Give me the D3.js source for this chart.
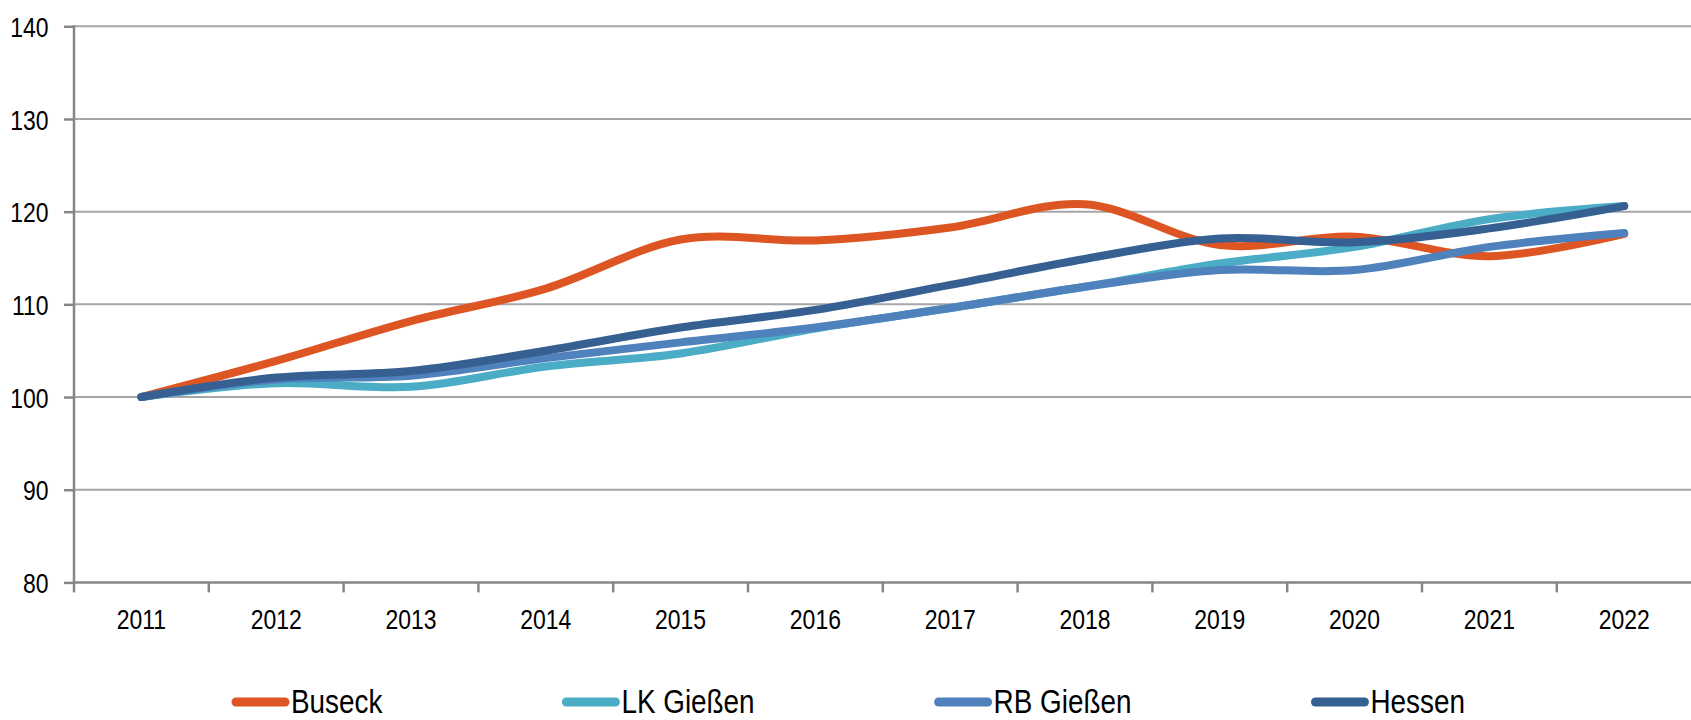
<!DOCTYPE html>
<html>
<head>
<meta charset="utf-8">
<script src="https://cdn.jsdelivr.net/npm/d3@7/dist/d3.min.js"></script>
<style>
  body { margin: 0; background: #fff; }
  svg { display: block; }
  text { font-family: "Liberation Sans", Arial, sans-serif; fill: #000; }
</style>
</head>
<body>
<svg id="chart" width="1691" height="720"></svg>
<script>
// data (index, 2011 = 100)
var years = ["2011", "2012", "2013", "2014", "2015", "2016", "2017", "2018", "2019", "2020", "2021", "2022"];
var buseck    = [100, 103.9, 108.2, 111.7, 117.0, 116.9, 118.3, 120.8, 116.4, 117.3, 115.2, 117.6];
var lkGiessen = [100, 101.5, 101.1, 103.3, 104.7, 107.4, 109.6, 111.9, 114.4, 116.2, 119.2, 120.6];
var rbGiessen = [100, 101.9, 102.3, 104.2, 105.9, 107.5, 109.6, 111.9, 113.7, 113.7, 116.2, 117.7];
var hessen    = [100, 102.1, 102.8, 105.0, 107.5, 109.4, 112.1, 114.9, 117.1, 116.7, 118.2, 120.6];
var seriesNames = ["Buseck", "LK Gießen", "RB Gießen", "Hessen"];
var seriesValues = [buseck, lkGiessen, rbGiessen, hessen];
var yTicks = [80, 90, 100, 110, 120, 130, 140];

var colors = ["#DD5522", "#4BACC6", "#4F81BD", "#366092"];
var squeeze = 0.82; // text in the original is horizontally condensed

var svg = d3.select("#chart");
var plotLeft = 74, plotRight = 1691.6, plotTop = 26.3, plotBottom = 582.4;

var x = d3.scaleBand().domain(years).range([plotLeft, plotRight]).padding(0);
var y = d3.scaleLinear().domain([80, 140]).range([plotBottom, plotTop]);
var cx = function (d) { return x(d) + x.bandwidth() / 2; };

// gridlines
svg.append("g").attr("class", "grid")
  .selectAll("line").data(yTicks.filter(function (d) { return d > 80; }))
  .enter().append("line")
  .attr("x1", plotLeft).attr("x2", 1691)
  .attr("y1", function (d) { return y(d); }).attr("y2", function (d) { return y(d); })
  .style("stroke", "#A6A6A6").style("stroke-width", 2);

// y axis
var yAxis = svg.append("g").attr("transform", "translate(" + plotLeft + ",0)")
  .call(d3.axisLeft(y).tickValues(yTicks).tickSize(10).tickSizeOuter(0));
yAxis.select(".domain").remove();
yAxis.selectAll(".tick line").style("stroke", "#868686").style("stroke-width", 2.5);
yAxis.selectAll(".tick text")
  .attr("x", -25.5 / squeeze)
  .attr("dy", "0.36em")
  .attr("transform", "scale(" + squeeze + ",1)")
  .style("font-size", "28px").style("font-family", "Liberation Sans, Arial, sans-serif").style("fill", "#000");
svg.append("line")
  .attr("x1", plotLeft).attr("x2", plotLeft).attr("y1", plotTop - 1).attr("y2", plotBottom)
  .style("stroke", "#868686").style("stroke-width", 2.5);

// x axis
svg.append("line")
  .attr("x1", plotLeft).attr("x2", 1691).attr("y1", plotBottom).attr("y2", plotBottom)
  .style("stroke", "#868686").style("stroke-width", 2.5);
svg.append("g").selectAll("line").data(years)
  .enter().append("line")
  .attr("x1", function (d) { return x(d); }).attr("x2", function (d) { return x(d); })
  .attr("y1", plotBottom).attr("y2", plotBottom + 10)
  .style("stroke", "#868686").style("stroke-width", 2.5);
svg.append("g").selectAll("text").data(years)
  .enter().append("text")
  .attr("x", function (d) { return cx(d) / squeeze; })
  .attr("y", 629)
  .attr("transform", "scale(" + squeeze + ",1)")
  .attr("text-anchor", "middle")
  .style("font-size", "28px")
  .text(function (d) { return d; });

// series lines
var line = d3.line()
  .x(function (d, i) { return cx(years[i]); })
  .y(function (d) { return y(d); })
  .curve(d3.curveCardinal.tension(0));

svg.append("g").selectAll("path").data(seriesValues)
  .enter().append("path")
  .attr("d", function (d) { return line(d); })
  .style("fill", "none")
  .style("stroke", function (d, i) { return colors[i]; })
  .style("stroke-width", 8)
  .style("stroke-linecap", "round")
  .style("stroke-linejoin", "round");

// legend
var legend = svg.append("g");
var lx = 232, ly = 702;
seriesNames.forEach(function (name, i) {
  legend.append("line")
    .attr("x1", lx + 4).attr("x2", lx + 53).attr("y1", ly).attr("y2", ly)
    .style("stroke", colors[i]).style("stroke-width", 9).style("stroke-linecap", "round");
  var t = legend.append("text")
    .attr("x", (lx + 59) / squeeze).attr("y", 713)
    .attr("transform", "scale(" + squeeze + ",1)")
    .style("font-size", "34px")
    .text(name);
  var w = t.node().getComputedTextLength() * squeeze;
  lx = lx + 59 + w + 180;
});
</script>
</body>
</html>
